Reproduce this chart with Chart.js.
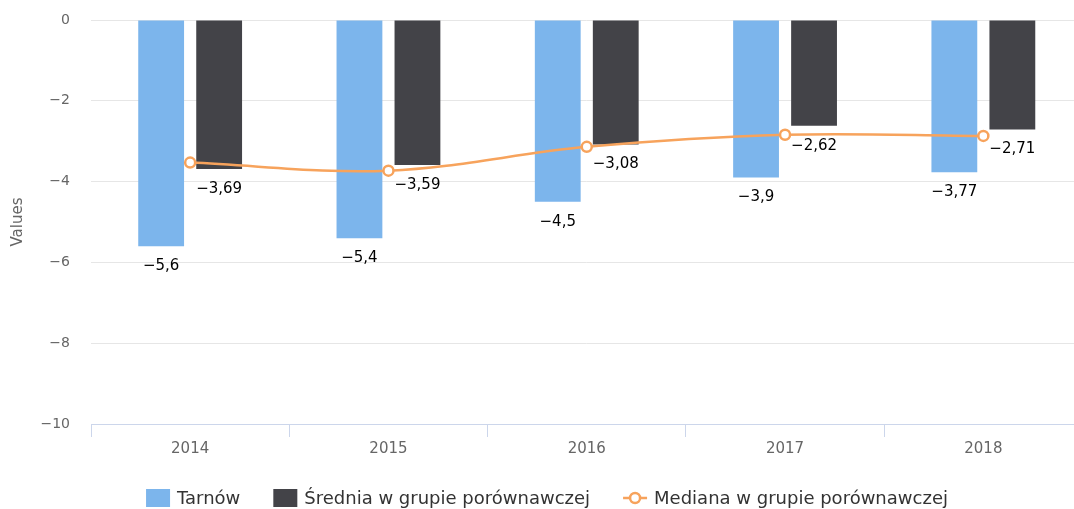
<!DOCTYPE html>
<html>
<head>
<meta charset="utf-8">
<script src="https://cdn.jsdelivr.net/npm/chart.js@4/dist/chart.umd.min.js"></script>
<style>
  html, body { margin: 0; padding: 0; background: #ffffff; overflow: hidden; }
  #wrap { position: relative; width: 1090px; height: 509px; }
</style>
</head>
<body>
<div id="wrap"><canvas id="c" width="1090" height="509"></canvas></div>
<script>
const categories = ['2014', '2015', '2016', '2017', '2018'];
const tarnow = [-5.6, -5.4, -4.5, -3.9, -3.77];
const srednia = [-3.69, -3.59, -3.08, -2.62, -2.71];
const mediana = [-3.53, -3.73, -3.14, -2.84, -2.87];
const seriesNames = ['Tarnów', 'Średnia w grupie porównawczej', 'Mediana w grupie porównawczej'];
const yTicks = [0, -2, -4, -6, -8, -10];
const axisTitle = 'Values';

const FONT = '"DejaVu Sans", "Noto Sans", sans-serif';
const fmt = v => String(v).replace('-', '\u2212').replace('.', ',');

const labelPlugin = {
  id: 'barLabels',
  afterDatasetsDraw(chart) {
    const ctx = chart.ctx;
    ctx.save();
    ctx.font = '15px ' + FONT;
    ctx.fillStyle = '#000000';
    ctx.textAlign = 'center';
    ctx.textBaseline = 'middle';
    [0, 1].forEach(di => {
      const meta = chart.getDatasetMeta(di);
      meta.data.forEach((el, i) => {
        const v = chart.data.datasets[di].data[i];
        ctx.fillText(fmt(v), el.x, el.y + 20);
      });
    });
    ctx.restore();
  }
};

const legendPlugin = {
  id: 'customLegend',
  afterDraw(chart) {
    const ctx = chart.ctx;
    ctx.save();
    ctx.font = '18px ' + FONT;
    ctx.textBaseline = 'middle';
    const symW = 24, symGap = 7, itemGap = 33;
    const widths = seriesNames.map(n => ctx.measureText(n).width);
    let total = 0;
    widths.forEach((w, i) => { total += symW + symGap + w + (i < widths.length - 1 ? itemGap : 0); });
    let x = chart.width / 2 - total / 2 + 2;
    const y = 498;
    const ds = chart.data.datasets;
    seriesNames.forEach((name, i) => {
      if (i < 2) {
        ctx.fillStyle = ds[i].backgroundColor;
        ctx.fillRect(x, y - 9, symW, 18);
      } else {
        ctx.strokeStyle = ds[i].borderColor;
        ctx.lineWidth = 2.5;
        ctx.beginPath();
        ctx.moveTo(x, y); ctx.lineTo(x + symW, y);
        ctx.stroke();
        ctx.beginPath();
        ctx.arc(x + symW / 2, y, 5, 0, Math.PI * 2);
        ctx.fillStyle = '#ffffff';
        ctx.fill();
        ctx.stroke();
      }
      ctx.fillStyle = '#333333';
      ctx.textAlign = 'left';
      ctx.fillText(name, x + symW + symGap, y + 1);
      x += symW + symGap + widths[i] + itemGap;
    });
    ctx.restore();
  }
};

new Chart(document.getElementById('c'), {
  data: {
    labels: categories,
    datasets: [
      {
        type: 'bar', label: seriesNames[0], data: tarnow,
        backgroundColor: '#7cb5ec', borderWidth: 0,
        categoryPercentage: 0.585, barPercentage: 0.79, order: 2
      },
      {
        type: 'bar', label: seriesNames[1], data: srednia,
        backgroundColor: '#434348', borderWidth: 0,
        categoryPercentage: 0.585, barPercentage: 0.79, order: 2
      },
      {
        type: 'line', label: seriesNames[2], data: mediana,
        borderColor: '#f7a35c', borderWidth: 2.5, tension: 0.35,
        pointRadius: 5, pointBorderWidth: 2.5, pointBackgroundColor: '#ffffff',
        pointBorderColor: '#f7a35c', fill: false, order: 1
      }
    ]
  },
  options: {
    responsive: false,
    animation: false,
    devicePixelRatio: 1,
    layout: { padding: { top: 20, right: 6, bottom: 50, left: 0 } },
    plugins: { legend: { display: false }, tooltip: { enabled: false } },
    scales: {
      x: {
        offset: true,
        grid: { offset: true, drawOnChartArea: false, drawTicks: true, tickLength: 13, color: '#ccd6eb', lineWidth: 1 },
        border: { display: true, color: '#ccd6eb', width: 1 },
        ticks: { color: '#666666', font: { family: FONT, size: 15 }, padding: 3 },
        afterFit(scale) { scale.height = 35; }
      },
      y: {
        min: -10, max: 0,
        afterBuildTicks(scale) { scale.ticks = yTicks.map(v => ({ value: v })); },
        grid: { color: '#e6e6e6', lineWidth: 1, drawTicks: true, tickLength: 18, tickColor: 'rgba(0,0,0,0)' },
        border: { display: false },
        ticks: { color: '#666666', font: { family: FONT, size: 14 }, padding: 3, callback: v => fmt(v) },
        title: { display: true, text: axisTitle, color: '#666666', font: { family: FONT, size: 15 }, padding: { top: 9, bottom: 0 } },
        afterFit(scale) { scale.width = 91; }
      }
    }
  },
  plugins: [labelPlugin, legendPlugin]
});
</script>
</body>
</html>
